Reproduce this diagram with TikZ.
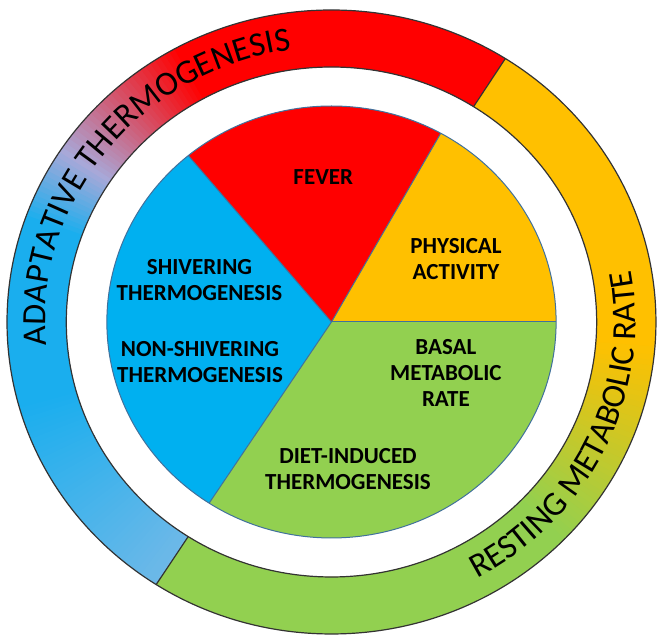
\documentclass[tikz,border=0pt]{standalone}
\usepackage{fontspec}
\setmainfont{Carlito}
\usetikzlibrary{decorations.text}

\definecolor{feverred}{HTML}{FF0000}
\definecolor{activyellow}{HTML}{FFC000}
\definecolor{basalgreen}{HTML}{92D050}
\definecolor{shivblue}{HTML}{00B0F0}
\definecolor{ringblue}{HTML}{1AAEEE}
\definecolor{ringlight}{HTML}{6CB8E8}
\definecolor{ringlav}{HTML}{A8A8D8}
\definecolor{pieedge}{HTML}{41719C}
\definecolor{ringedge}{HTML}{333333}

% one piece of the outer ring, from angle #1 to angle #2
\newcommand{\ringpiece}[3]{%
  \fill[#3] (#1:255) arc[start angle=#1, end angle=#2, radius=255]
    -- (#2:312) arc[start angle=#2, end angle=#1, radius=312] -- cycle;}

\begin{document}
\begin{tikzpicture}[x=0.52pt, y=0.5pt,
  pieline/.style={pieedge, line width=0.5pt},
  ringline/.style={ringedge, line width=0.6pt},
  pielabel/.style={font=\fontsize{11.5}{13}\selectfont\bfseries, align=center, text=black}]

  \useasboundingbox (-318.75,-316) rectangle (313,322);

  % Pie segments
  \fill[activyellow] (0,0) -- (0:216) arc[start angle=0, end angle=60.9, radius=216] -- cycle;
  \fill[feverred] (0,0) -- (60.9:216) arc[start angle=60.9, end angle=129.6, radius=216] -- cycle;
  \fill[shivblue] (0,0) -- (129.6:216) arc[start angle=129.6, end angle=237, radius=216] -- cycle;
  \fill[basalgreen] (0,0) -- (237:216) arc[start angle=237, end angle=360, radius=216] -- cycle;

  % Pie borders
  \draw[pieline] (0,0) circle[radius=216];
  \draw[pieline] (0,0) -- (0:216);
  \draw[pieline] (0,0) -- (60.9:216);
  \draw[pieline] (0,0) -- (129.6:216);
  \draw[pieline] (0,0) -- (237:216);

  % Outer ring, adaptative part (red to blue)
  \ringpiece{57.6}{237.3}{ringlight}
  \ringpiece{57.6}{119}{feverred}
  \foreach \a in {118,...,145} {
    \pgfmathsetmacro\p{100*(\a-118)/28}
    \pgfmathsetmacro\b{\a+1.5}
    \ringpiece{\a}{\b}{ringlav!\p!feverred}
  }
  \foreach \a in {146,...,159} {
    \pgfmathsetmacro\p{100*(\a-146)/14}
    \pgfmathsetmacro\b{\a+1.5}
    \ringpiece{\a}{\b}{ringblue!\p!ringlav}
  }
  \ringpiece{160}{196}{ringblue}
  \foreach \a in {195,...,235} {
    \pgfmathsetmacro\p{100*(\a-195)/41}
    \pgfmathsetmacro\b{\a+1.5}
    \ringpiece{\a}{\b}{ringlight!\p!ringblue}
  }

  % Outer ring, resting part (green to yellow)
  \ringpiece{237.3}{417.6}{activyellow}
  \ringpiece{237.3}{316}{basalgreen}
  \foreach \a in {315,...,354} {
    \pgfmathsetmacro\p{100*(\a-315)/40}
    \pgfmathsetmacro\b{\a+1.5}
    \ringpiece{\a}{\b}{activyellow!\p!basalgreen}
  }

  % Ring borders
  \draw[ringline] (0,0) circle[radius=312];
  \draw[ringline] (0,0) circle[radius=255];
  \draw[ringline] (57.6:255) -- (57.6:312);
  \draw[ringline] (237.3:255) -- (237.3:312);

  % Ring texts
  \path[decorate, decoration={text along path, text align=center,
      text={|\fontsize{17}{17}\selectfont|ADAPTATIVE THERMOGENESIS}}]
    (232:275) arc[start angle=232, end angle=52, radius=275];
  \path[decorate, decoration={text along path, text align=center,
      text={|\fontsize{17}{17}\selectfont|RESTING METABOLIC RATE}}]
    (-115:292.5) arc[start angle=-115, end angle=65, radius=292.5];

  % Pie labels
  \node[pielabel] (fever) at (-7.9,145.3) {FEVER};
  \node[pielabel] (activity) at (119.7,62.5) {PHYSICAL\\ACTIVITY};
  \node[pielabel] (shivering) at (-126.9,41.7) {SHIVERING\\THERMOGENESIS};
  \node[pielabel] (nonshivering) at (-126.4,-40.5) {NON-SHIVERING\\THERMOGENESIS};
  \node[pielabel] (basal) at (110,-51.3) {BASAL\\METABOLIC\\RATE};
  \node[pielabel] (diet) at (15.9,-147.5) {DIET-INDUCED\\THERMOGENESIS};

\end{tikzpicture}
\end{document}
